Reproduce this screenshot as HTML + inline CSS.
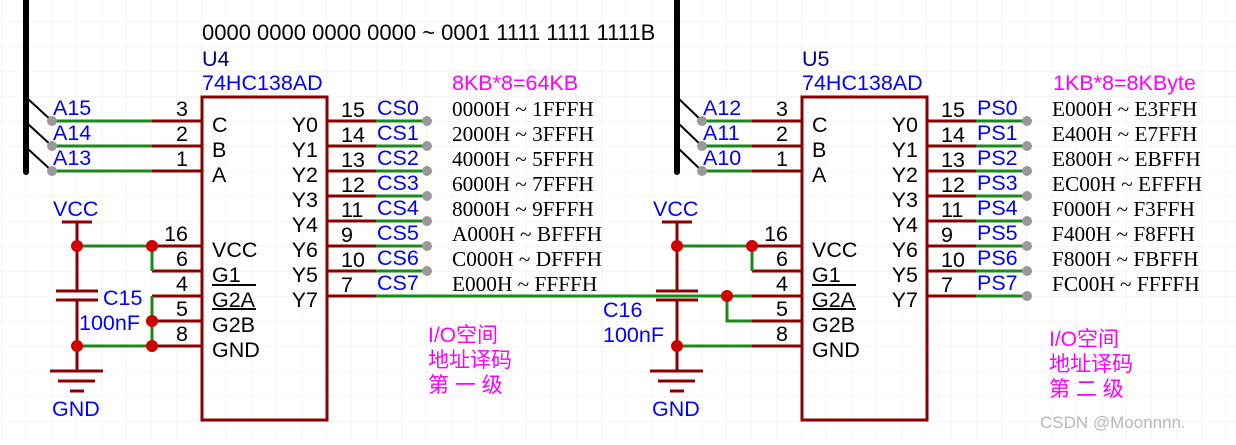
<!DOCTYPE html>
<html><head><meta charset="utf-8"><style>
html,body{margin:0;padding:0;background:#fff;}
svg text{font-family:"Liberation Sans","Noto Sans CJK SC",sans-serif;}
.s{font-family:"Liberation Serif",serif !important;}
</style></head><body>
<svg width="1236" height="440" viewBox="0 0 1236 440" xmlns="http://www.w3.org/2000/svg">
<defs><pattern id="g" width="25" height="25" patternUnits="userSpaceOnUse" x="2" y="-3"><path d="M25 0V25M0 25H25" stroke="#ececec" stroke-width="1" fill="none"/></pattern></defs>
<rect width="1236" height="440" fill="#fff"/>
<rect width="1236" height="440" fill="url(#g)"/>

<text x="202" y="40" font-size="22" fill="#000">0000 0000 0000 0000 ~ 0001 1111 1111 1111B</text>

<!-- ============ U4 block ============ -->
<line x1="26" y1="0" x2="26" y2="172" stroke="#000" stroke-width="6" stroke-linecap="round"/>
<g stroke="#000" stroke-width="2"><line x1="28" y1="99" x2="52" y2="121"/><line x1="28" y1="124" x2="52" y2="146"/><line x1="28" y1="149" x2="52" y2="171"/></g>
<g stroke="#1a8a1a" stroke-width="3"><line x1="52" y1="121" x2="152" y2="121"/><line x1="52" y1="146" x2="152" y2="146"/><line x1="52" y1="171" x2="152" y2="171"/></g>
<g stroke="#8b0000" stroke-width="3"><line x1="152" y1="121" x2="202" y2="121"/><line x1="152" y1="146" x2="202" y2="146"/><line x1="152" y1="171" x2="202" y2="171"/></g>
<g fill="#999"><circle cx="52" cy="121" r="5"/><circle cx="52" cy="146" r="5"/><circle cx="52" cy="171" r="5"/></g>
<g fill="#0000ff" font-size="21.5"><text x="53" y="115">A15</text><text x="53" y="140">A14</text><text x="53" y="165">A13</text></g>

<rect x="202" y="97" width="125" height="323" fill="none" stroke="#8b0000" stroke-width="3"/>
<text x="202" y="66" font-size="21.5" fill="#000080">U4</text>
<text x="202" y="90" font-size="21.5" fill="#0000ff">74HC138AD</text>
<g font-size="21.5" fill="#000" text-anchor="end">
<text x="188" y="116">3</text><text x="188" y="141">2</text><text x="188" y="166">1</text>
<text x="188" y="241">16</text><text x="188" y="266">6</text><text x="188" y="291">4</text><text x="188" y="316">5</text><text x="188" y="341">8</text>
</g>
<g font-size="21.5" fill="#000">
<text x="212" y="132">C</text><text x="212" y="157">B</text><text x="212" y="182">A</text>
<text x="212" y="257">VCC</text><text x="212" y="282">G1</text><text x="212" y="307">G2A</text><text x="212" y="332">G2B</text><text x="212" y="357">GND</text>
</g>
<g stroke="#000" stroke-width="2"><line x1="212" y1="285" x2="256" y2="285"/><line x1="212" y1="309" x2="256" y2="309"/></g>
<g font-size="21.5" fill="#000" text-anchor="end">
<text x="318" y="132">Y0</text><text x="318" y="157">Y1</text><text x="318" y="182">Y2</text><text x="318" y="207">Y3</text><text x="318" y="232">Y4</text><text x="318" y="257">Y6</text><text x="318" y="282">Y5</text><text x="318" y="307">Y7</text>
</g>
<g stroke="#8b0000" stroke-width="3">
<line x1="327" y1="121" x2="376" y2="121"/><line x1="327" y1="146" x2="376" y2="146"/><line x1="327" y1="171" x2="376" y2="171"/><line x1="327" y1="196" x2="376" y2="196"/><line x1="327" y1="221" x2="376" y2="221"/><line x1="327" y1="246" x2="376" y2="246"/><line x1="327" y1="271" x2="376" y2="271"/><line x1="327" y1="296" x2="376" y2="296"/>
</g>
<g stroke="#1a8a1a" stroke-width="3">
<line x1="376" y1="121" x2="426" y2="121"/><line x1="376" y1="146" x2="426" y2="146"/><line x1="376" y1="171" x2="426" y2="171"/><line x1="376" y1="196" x2="426" y2="196"/><line x1="376" y1="221" x2="426" y2="221"/><line x1="376" y1="246" x2="426" y2="246"/><line x1="376" y1="271" x2="426" y2="271"/>
<line x1="376" y1="296" x2="752" y2="296"/>
</g>
<g fill="#999"><circle cx="427" cy="121" r="5"/><circle cx="427" cy="146" r="5"/><circle cx="427" cy="171" r="5"/><circle cx="427" cy="196" r="5"/><circle cx="427" cy="221" r="5"/><circle cx="427" cy="246" r="5"/><circle cx="427" cy="271" r="5"/></g>
<g font-size="21.5" fill="#000">
<text x="341" y="117">15</text><text x="341" y="142">14</text><text x="341" y="167">13</text><text x="341" y="192">12</text><text x="341" y="217">11</text><text x="341" y="242">9</text><text x="341" y="267">10</text><text x="341" y="292">7</text>
</g>
<g font-size="21.5" fill="#0000ff">
<text x="377" y="115">CS0</text><text x="377" y="140">CS1</text><text x="377" y="165">CS2</text><text x="377" y="190">CS3</text><text x="377" y="215">CS4</text><text x="377" y="240">CS5</text><text x="377" y="265">CS6</text><text x="377" y="290">CS7</text>
</g>
<text x="452" y="90" font-size="21.5" fill="#ff00ff">8KB*8=64KB</text>
<g font-size="21.3" fill="#000">
<text class="s" x="452" y="116">0000H ~ 1FFFH</text><text class="s" x="452" y="141">2000H ~ 3FFFH</text><text class="s" x="452" y="166">4000H ~ 5FFFH</text><text class="s" x="452" y="191">6000H ~ 7FFFH</text><text class="s" x="452" y="216">8000H ~ 9FFFH</text><text class="s" x="452" y="241">A000H ~ BFFFH</text><text class="s" x="452" y="266">C000H ~ DFFFH</text><text class="s" x="452" y="291">E000H ~ FFFFH</text>
</g>
<g font-size="21" fill="#ff00ff"><text x="428" y="342">I/O空间</text><text x="428" y="367">地址译码</text><text x="428" y="392">第 一 级</text></g>

<g stroke="#8b0000" stroke-width="3" fill="none">
<line x1="62" y1="222" x2="92" y2="222"/><line x1="77" y1="222" x2="77" y2="291"/><line x1="77" y1="300" x2="77" y2="371"/>
<line x1="56" y1="291" x2="98" y2="291"/><line x1="56" y1="300" x2="98" y2="300"/>
<line x1="50" y1="371" x2="103" y2="371"/><line x1="58" y1="381" x2="95" y2="381"/><line x1="70" y1="391" x2="84" y2="391"/>
<line x1="152" y1="246" x2="202" y2="246"/><line x1="152" y1="271" x2="202" y2="271"/><line x1="152" y1="296" x2="202" y2="296"/><line x1="152" y1="321" x2="202" y2="321"/><line x1="152" y1="346" x2="202" y2="346"/>
</g>
<g stroke="#1a8a1a" stroke-width="3" fill="none">
<line x1="77" y1="246" x2="152" y2="246"/><polyline points="152,246 152,271"/><polyline points="152,296 152,346"/><line x1="77" y1="346" x2="152" y2="346"/>
</g>
<g fill="#cc0000"><circle cx="77" cy="246" r="6"/><circle cx="152" cy="246" r="6"/><circle cx="152" cy="321" r="6"/><circle cx="77" cy="346" r="6"/><circle cx="152" cy="346" r="6"/></g>
<g font-size="21.5" fill="#0000ff"><text x="53" y="216">VCC</text><text x="103" y="305">C15</text><text x="79" y="330">100nF</text><text x="52" y="416">GND</text></g>

<!-- ============ U5 block ============ -->
<line x1="677" y1="0" x2="677" y2="172" stroke="#000" stroke-width="6" stroke-linecap="round"/>
<g stroke="#000" stroke-width="2"><line x1="679" y1="99" x2="702" y2="121"/><line x1="679" y1="124" x2="702" y2="146"/><line x1="679" y1="149" x2="702" y2="171"/></g>
<g stroke="#1a8a1a" stroke-width="3"><line x1="702" y1="121" x2="752" y2="121"/><line x1="702" y1="146" x2="752" y2="146"/><line x1="702" y1="171" x2="752" y2="171"/></g>
<g stroke="#8b0000" stroke-width="3"><line x1="752" y1="121" x2="802" y2="121"/><line x1="752" y1="146" x2="802" y2="146"/><line x1="752" y1="171" x2="802" y2="171"/></g>
<g fill="#999"><circle cx="702" cy="121" r="5"/><circle cx="702" cy="146" r="5"/><circle cx="702" cy="171" r="5"/></g>
<g font-size="21.5" fill="#0000ff"><text x="703" y="115">A12</text><text x="703" y="140">A11</text><text x="703" y="165">A10</text></g>

<rect x="802" y="97" width="125" height="323" fill="none" stroke="#8b0000" stroke-width="3"/>
<text x="802" y="66" font-size="21.5" fill="#000080">U5</text>
<text x="802" y="90" font-size="21.5" fill="#0000ff">74HC138AD</text>
<g font-size="21.5" fill="#000" text-anchor="end">
<text x="788" y="116">3</text><text x="788" y="141">2</text><text x="788" y="166">1</text>
<text x="788" y="241">16</text><text x="788" y="266">6</text><text x="788" y="291">4</text><text x="788" y="316">5</text><text x="788" y="341">8</text>
</g>
<g font-size="21.5" fill="#000">
<text x="812" y="132">C</text><text x="812" y="157">B</text><text x="812" y="182">A</text>
<text x="812" y="257">VCC</text><text x="812" y="282">G1</text><text x="812" y="307">G2A</text><text x="812" y="332">G2B</text><text x="812" y="357">GND</text>
</g>
<g stroke="#000" stroke-width="2"><line x1="812" y1="285" x2="856" y2="285"/><line x1="812" y1="309" x2="856" y2="309"/></g>
<g font-size="21.5" fill="#000" text-anchor="end">
<text x="918" y="132">Y0</text><text x="918" y="157">Y1</text><text x="918" y="182">Y2</text><text x="918" y="207">Y3</text><text x="918" y="232">Y4</text><text x="918" y="257">Y6</text><text x="918" y="282">Y5</text><text x="918" y="307">Y7</text>
</g>
<g stroke="#8b0000" stroke-width="3">
<line x1="927" y1="121" x2="976" y2="121"/><line x1="927" y1="146" x2="976" y2="146"/><line x1="927" y1="171" x2="976" y2="171"/><line x1="927" y1="196" x2="976" y2="196"/><line x1="927" y1="221" x2="976" y2="221"/><line x1="927" y1="246" x2="976" y2="246"/><line x1="927" y1="271" x2="976" y2="271"/><line x1="927" y1="296" x2="976" y2="296"/>
</g>
<g stroke="#1a8a1a" stroke-width="3">
<line x1="976" y1="121" x2="1026" y2="121"/><line x1="976" y1="146" x2="1026" y2="146"/><line x1="976" y1="171" x2="1026" y2="171"/><line x1="976" y1="196" x2="1026" y2="196"/><line x1="976" y1="221" x2="1026" y2="221"/><line x1="976" y1="246" x2="1026" y2="246"/><line x1="976" y1="271" x2="1026" y2="271"/><line x1="976" y1="296" x2="1026" y2="296"/>
</g>
<g fill="#999"><circle cx="1027" cy="121" r="5"/><circle cx="1027" cy="146" r="5"/><circle cx="1027" cy="171" r="5"/><circle cx="1027" cy="196" r="5"/><circle cx="1027" cy="221" r="5"/><circle cx="1027" cy="246" r="5"/><circle cx="1027" cy="271" r="5"/><circle cx="1027" cy="296" r="5"/></g>
<g font-size="21.5" fill="#000">
<text x="941" y="117">15</text><text x="941" y="142">14</text><text x="941" y="167">13</text><text x="941" y="192">12</text><text x="941" y="217">11</text><text x="941" y="242">9</text><text x="941" y="267">10</text><text x="941" y="292">7</text>
</g>
<g font-size="21.5" fill="#0000ff">
<text x="977" y="115">PS0</text><text x="977" y="140">PS1</text><text x="977" y="165">PS2</text><text x="977" y="190">PS3</text><text x="977" y="215">PS4</text><text x="977" y="240">PS5</text><text x="977" y="265">PS6</text><text x="977" y="290">PS7</text>
</g>
<text x="1053" y="90" font-size="21.5" fill="#ff00ff">1KB*8=8KByte</text>
<g font-size="21.3" fill="#000">
<text class="s" x="1052" y="116">E000H ~ E3FFH</text><text class="s" x="1052" y="141">E400H ~ E7FFH</text><text class="s" x="1052" y="166">E800H ~ EBFFH</text><text class="s" x="1052" y="191">EC00H ~ EFFFH</text><text class="s" x="1052" y="216">F000H ~ F3FFH</text><text class="s" x="1052" y="241">F400H ~ F8FFH</text><text class="s" x="1052" y="266">F800H ~ FBFFH</text><text class="s" x="1052" y="291">FC00H ~ FFFFH</text>
</g>
<g font-size="21" fill="#ff00ff"><text x="1049" y="346">I/O空间</text><text x="1049" y="371">地址译码</text><text x="1049" y="396">第 二 级</text></g>
<text x="1040" y="428" font-size="17" fill="#b8b8b8">CSDN @Moonnnn.</text>

<g stroke="#8b0000" stroke-width="3" fill="none">
<line x1="662" y1="222" x2="692" y2="222"/><line x1="677" y1="222" x2="677" y2="291"/><line x1="677" y1="300" x2="677" y2="371"/>
<line x1="656" y1="291" x2="698" y2="291"/><line x1="656" y1="300" x2="698" y2="300"/>
<line x1="650" y1="371" x2="703" y2="371"/><line x1="658" y1="381" x2="695" y2="381"/><line x1="670" y1="391" x2="684" y2="391"/>
<line x1="752" y1="246" x2="802" y2="246"/><line x1="752" y1="271" x2="802" y2="271"/><line x1="752" y1="296" x2="802" y2="296"/><line x1="752" y1="321" x2="802" y2="321"/><line x1="752" y1="346" x2="802" y2="346"/>
</g>
<g stroke="#1a8a1a" stroke-width="3" fill="none">
<line x1="677" y1="246" x2="752" y2="246"/><polyline points="752,246 752,271"/><polyline points="727,296 727,321 752,321"/><line x1="677" y1="346" x2="752" y2="346"/>
</g>
<g fill="#cc0000"><circle cx="677" cy="246" r="6"/><circle cx="752" cy="246" r="6"/><circle cx="727" cy="296" r="6"/><circle cx="677" cy="346" r="6"/></g>
<g font-size="21.5" fill="#0000ff"><text x="653" y="216">VCC</text><text x="603" y="317">C16</text><text x="603" y="342">100nF</text><text x="652" y="416">GND</text></g>
</svg>
</body></html>
